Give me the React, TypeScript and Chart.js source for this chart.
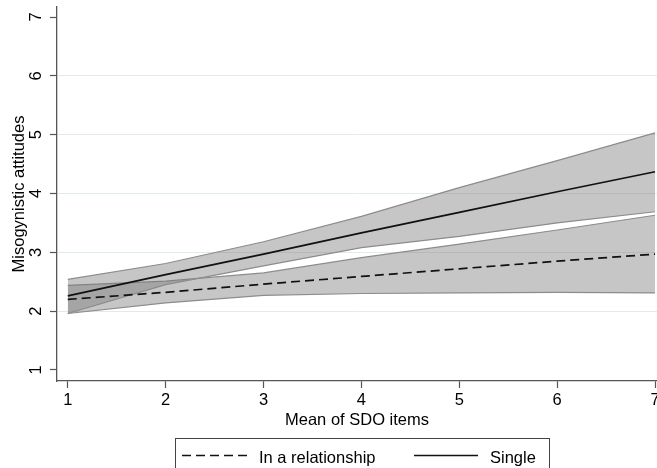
import React, { useEffect, useRef } from "react";
import { Chart, registerables } from "chart.js";

Chart.register(...registerables);

const xValues = [1, 2, 3, 4, 5, 6, 7];
const singleFit = [2.26, 2.62, 2.97, 3.33, 3.68, 4.03, 4.37];
const singleUpper = [2.54, 2.81, 3.18, 3.61, 4.1, 4.56, 5.03];
const singleLower = [1.96, 2.45, 2.77, 3.08, 3.27, 3.5, 3.69];
const relFit = [2.2, 2.32, 2.46, 2.59, 2.72, 2.85, 2.97];
const relUpper = [2.44, 2.51, 2.65, 2.91, 3.14, 3.38, 3.63];
const relLower = [1.96, 2.14, 2.27, 2.3, 2.31, 2.32, 2.31];
const xTicks = [1, 2, 3, 4, 5, 6, 7];
const yTicks = [1, 2, 3, 4, 5, 6, 7];
const gridValues = [2, 3, 4, 5, 6];
const legendLabels = ["In a relationship", "Single"];
const xTitle = "Mean of SDO items";
const yTitle = "Misogynistic attitudes";

const FONT = '"Liberation Sans", Arial, Helvetica, sans-serif';
const AXIS = "#555555";
const TEXT = "#000000";
const BAND_FILL = "rgba(120,120,120,0.42)";
const BAND_EDGE = "#8c8c8c";

const pts = (ys: number[]) => xValues.map((x, i) => ({ x, y: ys[i] }));

const boxLegend = {
  id: "boxLegend",
  afterDraw(chart: any) {
    const ctx = chart.ctx as CanvasRenderingContext2D;
    ctx.save();
    ctx.strokeStyle = "#444";
    ctx.lineWidth = 1;
    ctx.strokeRect(175.5, 438.5, 374, 40);
    ctx.strokeStyle = "#111";
    ctx.lineWidth = 1.7;
    ctx.setLineDash([9, 5]);
    ctx.beginPath();
    ctx.moveTo(182, 455.5);
    ctx.lineTo(248, 455.5);
    ctx.stroke();
    ctx.setLineDash([]);
    ctx.beginPath();
    ctx.moveTo(414, 455.5);
    ctx.lineTo(478, 455.5);
    ctx.stroke();
    ctx.fillStyle = TEXT;
    ctx.font = `16.5px ${FONT}`;
    ctx.textBaseline = "alphabetic";
    ctx.textAlign = "left";
    ctx.fillText(legendLabels[0], 259, 463);
    ctx.fillText(legendLabels[1], 490, 463);
    ctx.restore();
  },
};

export default function App() {
  const ref = useRef<HTMLCanvasElement | null>(null);

  useEffect(() => {
    if (!ref.current) return;
    const chart = new Chart(ref.current, {
      type: "line",
      data: {
        datasets: [
          {
            label: legendLabels[1],
            data: pts(singleFit),
            borderColor: "#111",
            borderWidth: 1.7,
            pointRadius: 0,
            fill: false,
          },
          {
            label: legendLabels[0],
            data: pts(relFit),
            borderColor: "#111",
            borderWidth: 1.7,
            borderDash: [9, 5],
            pointRadius: 0,
            fill: false,
          },
          {
            label: "single lower",
            data: pts(singleLower),
            borderColor: BAND_EDGE,
            borderWidth: 1.2,
            pointRadius: 0,
            fill: false,
          },
          {
            label: "single upper",
            data: pts(singleUpper),
            borderColor: BAND_EDGE,
            borderWidth: 1.2,
            pointRadius: 0,
            backgroundColor: BAND_FILL,
            fill: "-1",
          },
          {
            label: "rel lower",
            data: pts(relLower),
            borderColor: BAND_EDGE,
            borderWidth: 1.2,
            pointRadius: 0,
            fill: false,
          },
          {
            label: "rel upper",
            data: pts(relUpper),
            borderColor: BAND_EDGE,
            borderWidth: 1.2,
            pointRadius: 0,
            backgroundColor: BAND_FILL,
            fill: "-1",
          },
        ],
      },
      options: {
        responsive: false,
        animation: false,
        layout: { padding: { top: 7, left: 0, right: 0, bottom: 0 } },
        plugins: {
          legend: { display: false },
          tooltip: { enabled: false },
        },
        elements: { line: { tension: 0 } },
        scales: {
          x: {
            type: "linear",
            min: 0.89,
            max: 7.02,
            afterBuildTicks: (s: any) => {
              s.ticks = xTicks.map((v) => ({ value: v }));
            },
            afterFit: (s: any) => {
              s.height = 87;
              s.paddingLeft = 0;
              s.paddingRight = 0;
            },
            grid: {
              drawOnChartArea: false,
              drawTicks: true,
              tickLength: 7,
              tickColor: AXIS,
              tickWidth: 1.2,
            },
            border: { display: true, color: AXIS, width: 1.3 },
            ticks: {
              color: TEXT,
              font: { family: FONT, size: 16.5 },
              padding: 3,
              maxRotation: 0,
              minRotation: 0,
              callback: (v: any) => String(v),
            },
            title: {
              display: true,
              text: xTitle,
              color: TEXT,
              font: { family: FONT, size: 16.5 },
              padding: { top: 0, bottom: 38 },
            },
          },
          y: {
            type: "linear",
            min: 0.813,
            max: 7.17,
            afterBuildTicks: (s: any) => {
              s.ticks = yTicks.map((v) => ({ value: v }));
            },
            afterFit: (s: any) => {
              s.width = 57;
              s.paddingTop = 0;
              s.paddingBottom = 0;
            },
            grid: {
              color: (c: any) =>
                c.tick && gridValues.includes(c.tick.value) ? "#e0ebeb" : "rgba(0,0,0,0)",
              lineWidth: 1,
              drawTicks: true,
              tickLength: 7,
              tickColor: AXIS,
              tickWidth: 1.2,
            },
            border: { display: true, color: AXIS, width: 1.3 },
            ticks: {
              color: TEXT,
              font: { family: FONT, size: 16.5 },
              padding: 9,
              minRotation: 90,
              maxRotation: 90,
              crossAlign: "center",
              callback: (v: any) => String(v),
            },
            title: {
              display: true,
              text: yTitle,
              color: TEXT,
              font: { family: FONT, size: 16.5 },
              padding: { top: 10, bottom: 0 },
            },
          },
        },
      } as any,
      plugins: [boxLegend],
    });
    return () => chart.destroy();
  }, []);

  return (
    <div style={{ position: "fixed", left: 0, top: 0, width: 657, height: 468, background: "#fff" }}>
      <canvas ref={ref} width={657} height={468} style={{ display: "block" }} />
    </div>
  );
}
